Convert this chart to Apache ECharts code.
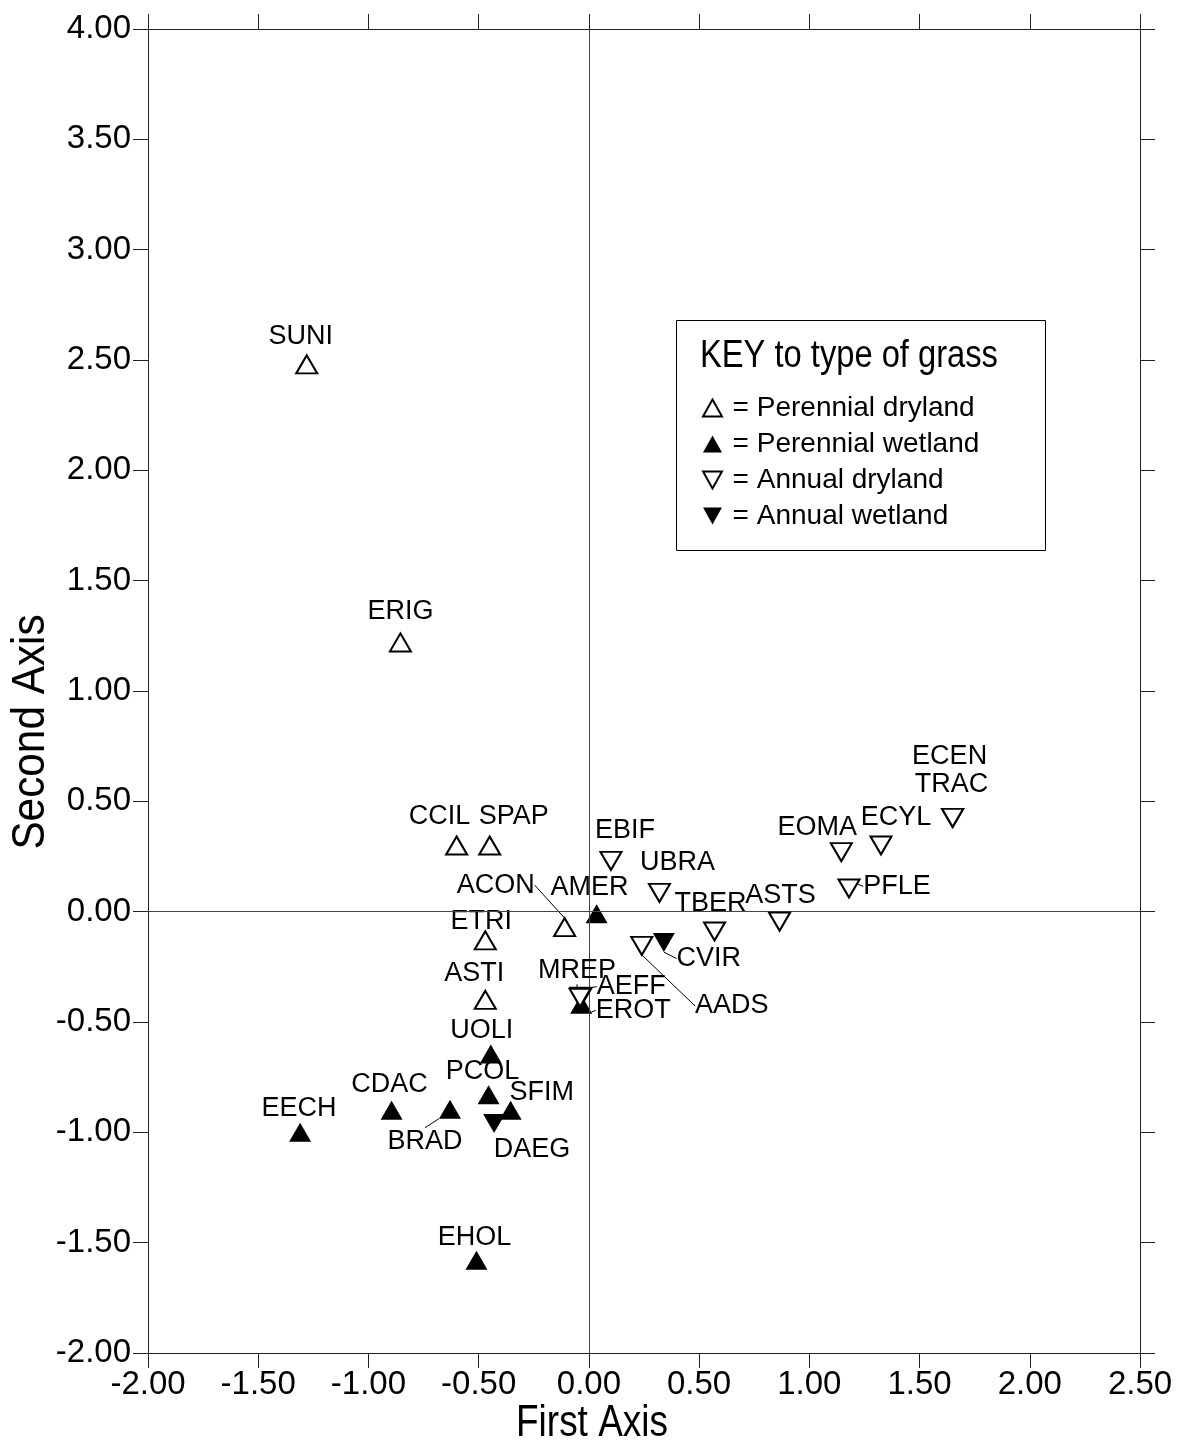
<!DOCTYPE html>
<html>
<head>
<meta charset="utf-8">
<script src="https://cdn.jsdelivr.net/npm/echarts@6/dist/echarts.min.js"></script>
<style>
  html, body { margin: 0; padding: 0; background: #fff; }
  #chart { width: 1179px; height: 1445px; }
</style>
</head>
<body>
<div id="chart"></div>
<script>
// species codes and their scores on the two axes
const species = ['SUNI','ERIG','CCIL','SPAP','ACON','ETRI','ASTI',
  'AMER','EROT','UOLI','PCOL','SFIM','BRAD','CDAC','EECH','EHOL',
  'EBIF','UBRA','TBER','ASTS','AADS','AEFF','MREP','EOMA','ECYL','ECEN','TRAC','PFLE',
  'CVIR','DAEG'];
const firstAxis = [-1.28, -0.855, -0.60, -0.45, -0.11, -0.47, -0.47,
  0.035, -0.035, -0.445, -0.455, -0.355, -0.63, -0.895, -1.31, -0.51,
  0.10, 0.32, 0.57, 0.865, 0.24, -0.035, -0.04, 1.145, 1.325, 1.65, 1.65, 1.18,
  0.34, -0.43];
const secondAxis = [2.48, 1.22, 0.30, 0.30, -0.07, -0.13, -0.40,
  -0.01, -0.42, -0.645, -0.83, -0.90, -0.895, -0.90, -1.00, -1.58,
  0.23, 0.085, -0.09, -0.045, -0.155, -0.385, -0.39, 0.27, 0.30, 0.425, 0.425, 0.105,
  -0.14, -0.96];
// 0 perennial dryland, 1 perennial wetland, 2 annual dryland, 3 annual wetland
const grassType = [0,0,0,0,0,0,0, 1,1,1,1,1,1,1,1,1, 2,2,2,2,2,2,2,2,2,2,2,2, 3,3];
const typeNames = ['Perennial dryland', 'Perennial wetland', 'Annual dryland', 'Annual wetland'];

// label placement (pixels from marker centre) and which labels get a leader line
const labelShift = {
  SUNI: [-6,-28], ERIG: [0,-31], CCIL: [-17,-29], SPAP: [24,-29], ACON: [-69,-42],
  ETRI: [-4,-19], ASTI: [-11,-26], AMER: [-7,-26], EROT: [52,6], UOLI: [-9,-23],
  PCOL: [-6,-23], SFIM: [31,-18], BRAD: [-25,32], CDAC: [-2,-26], EECH: [-1,-24],
  EHOL: [-2,-23], EBIF: [14,-30], UBRA: [18,-30], TBER: [-4,-28], ASTS: [1,-26],
  AADS: [90,60], AEFF: [50,-10], MREP: [-3,-27], EOMA: [-24,-25], ECYL: [15,-28],
  ECEN: [-3,-61], TRAC: [-1,-33], PFLE: [48,-2], CVIR: [45,16], DAEG: [38,26]
};
const leaders = ['ACON','MREP','AEFF','EROT','AADS','CVIR','BRAD','PFLE'];

const FONT = "'Liberation Sans', Arial, sans-serif";
const INK = '#000';
const DOWN = 'path://M0,0L20,0L10,18Z';

const markerStyles = [
  { symbol: 'triangle', size: [21, 18], itemStyle: { color: '#fff', borderColor: INK, borderWidth: 2, opacity: 1 } },
  { symbol: 'triangle', size: [22, 19], itemStyle: { color: INK, borderColor: INK, borderWidth: 0, opacity: 1 } },
  { symbol: DOWN, size: [21, 18], itemStyle: { color: '#fff', borderColor: INK, borderWidth: 2, opacity: 1 } },
  { symbol: DOWN, size: [22, 19], itemStyle: { color: INK, borderColor: INK, borderWidth: 0, opacity: 1 } }
];

const series = typeNames.map(function (tn, t) {
  const names = [];
  const data = [];
  species.forEach(function (sp, i) {
    if (grassType[i] !== t) return;
    names.push(sp);
    const item = { name: sp, value: [firstAxis[i], secondAxis[i]] };
    if (leaders.indexOf(sp) > -1) {
      item.labelLine = { show: true, lineStyle: { color: INK, width: 1, opacity: 1 } };
    }
    data.push(item);
  });
  const st = markerStyles[t];
  return {
    name: tn,
    type: 'scatter',
    symbol: st.symbol,
    symbolSize: st.size,
    symbolKeepAspect: false,
    itemStyle: st.itemStyle,
    data: data,
    z: 3 + t,
    label: {
      show: true,
      formatter: '{b}',
      color: INK,
      opacity: 1,
      fontFamily: FONT,
      fontSize: 27
    },
    labelLine: { show: false },
    labelLayout: function (params) {
      const s = labelShift[names[params.dataIndex]] || [0, -27];
      return {
        x: params.rect.x + params.rect.width / 2 + s[0],
        y: params.rect.y + params.rect.height / 2 + s[1],
        align: 'center',
        verticalAlign: 'middle'
      };
    },
    emphasis: { disabled: true }
  };
});

// zero lines through the plot
series[0].markLine = {
  silent: true,
  symbol: 'none',
  label: { show: false },
  lineStyle: { color: '#444', width: 1, type: 'solid', opacity: 1 },
  data: [{ xAxis: 0 }, { yAxis: 0 }]
};

const tickFmt = function (v) { return v.toFixed(2); };
const axisLineStyle = { show: true, onZero: false, lineStyle: { color: '#222', width: 1 } };
const tickStyle = { show: true, length: 15, lineStyle: { color: '#222', width: 1 } };

const chart = echarts.init(document.getElementById('chart'));
chart.setOption({
  backgroundColor: '#fff',
  animation: false,
  grid: { left: 148, right: 39, top: 29, bottom: 92, containLabel: false },
  xAxis: [{
    type: 'value', position: 'bottom', min: -2, max: 2.5, interval: 0.5,
    axisLine: axisLineStyle, axisTick: tickStyle, splitLine: { show: false },
    axisLabel: { formatter: tickFmt, color: INK, fontFamily: FONT, fontSize: 33, margin: 15 }
  }, {
    type: 'value', position: 'top', min: -2, max: 2.5, interval: 0.5,
    axisLine: axisLineStyle, axisTick: tickStyle, splitLine: { show: false },
    axisLabel: { show: false }
  }],
  yAxis: [{
    type: 'value', position: 'left', min: -2, max: 4, interval: 0.5,
    axisLine: axisLineStyle, axisTick: tickStyle, splitLine: { show: false },
    axisLabel: { formatter: tickFmt, color: INK, fontFamily: FONT, fontSize: 33, margin: 17 }
  }, {
    type: 'value', position: 'right', min: -2, max: 4, interval: 0.5,
    axisLine: axisLineStyle, axisTick: tickStyle, splitLine: { show: false },
    axisLabel: { show: false }
  }],
  legend: {
    orient: 'vertical',
    left: 702,
    top: 393,
    itemWidth: 19,
    itemHeight: 17,
    itemGap: 6,
    padding: 0,
    selectedMode: false,
    formatter: '\u2009= {name}',
    textStyle: { color: INK, fontFamily: FONT, fontSize: 28, lineHeight: 30 },
    data: typeNames.map(function (tn, t) {
      return { name: tn, icon: t < 2 ? 'triangle' : DOWN };
    })
  },
  graphic: [
    {
      type: 'rect',
      shape: { x: 676.5, y: 320.5, width: 369, height: 230 },
      style: { fill: 'none', stroke: INK, lineWidth: 1 },
      silent: true
    },
    {
      type: 'text', x: 700, y: 357, scaleX: 0.86,
      style: { text: 'KEY to type of grass', fill: INK, font: '38px ' + FONT, textVerticalAlign: 'middle' },
      silent: true
    },
    {
      type: 'text', x: 592, y: 1424, scaleX: 0.84,
      style: { text: 'First Axis', fill: INK, font: '44px ' + FONT, textAlign: 'center', textVerticalAlign: 'middle' },
      silent: true
    },
    {
      type: 'text', x: 31, y: 732, rotation: Math.PI / 2, scaleX: 0.92,
      style: { text: 'Second Axis', fill: INK, font: '46px ' + FONT, textAlign: 'center', textVerticalAlign: 'middle' },
      silent: true
    }
  ],
  series: series
});
</script>
</body>
</html>
